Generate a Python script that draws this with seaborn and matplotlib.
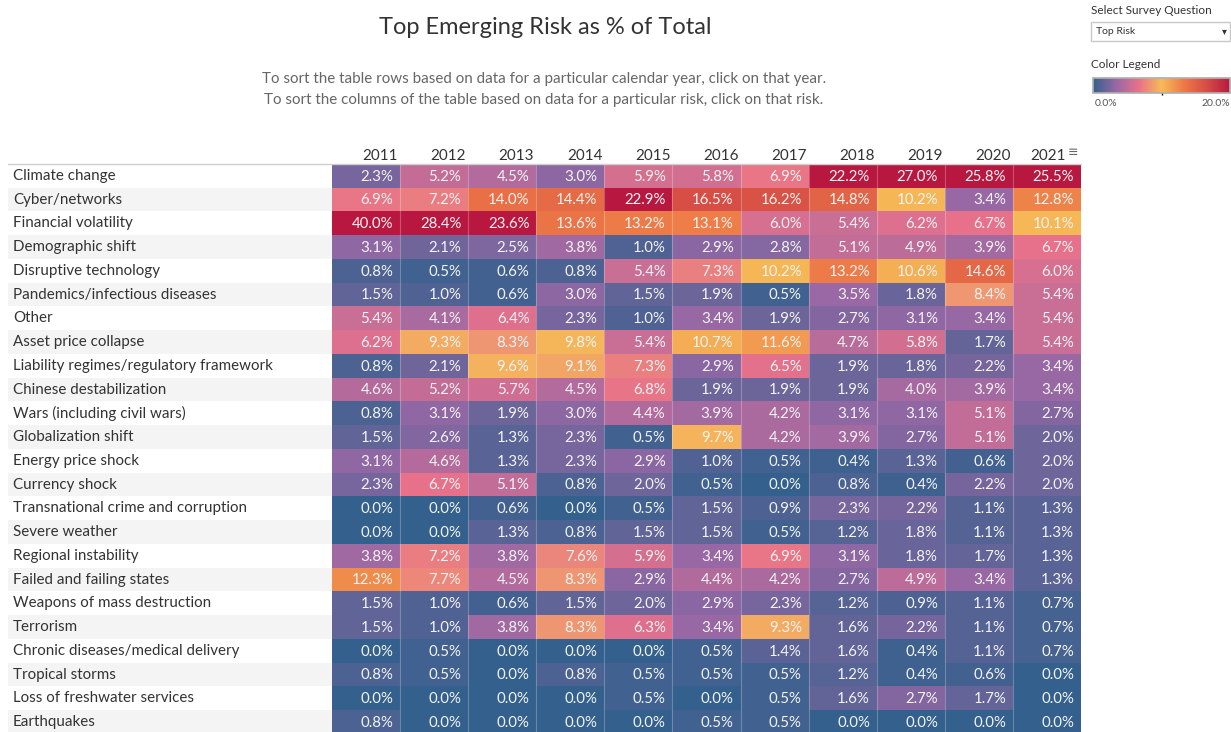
import numpy as np
import pandas as pd
import matplotlib
matplotlib.use("Agg")
import matplotlib.pyplot as plt
import seaborn as sns
from matplotlib.colors import LinearSegmentedColormap, Normalize
from matplotlib.cm import ScalarMappable
from matplotlib.patches import Rectangle

years = ["2011", "2012", "2013", "2014", "2015", "2016", "2017", "2018", "2019", "2020", "2021"]

risks = [
    "Climate change", "Cyber/networks", "Financial volatility", "Demographic shift",
    "Disruptive technology", "Pandemics/infectious diseases", "Other", "Asset price collapse",
    "Liability regimes/regulatory framework", "Chinese destabilization",
    "Wars (including civil wars)", "Globalization shift", "Energy price shock", "Currency shock",
    "Transnational crime and corruption", "Severe weather", "Regional instability",
    "Failed and failing states", "Weapons of mass destruction", "Terrorism",
    "Chronic diseases/medical delivery", "Tropical storms", "Loss of freshwater services",
    "Earthquakes",
]

climate = [2.3, 5.2, 4.5, 3.0, 5.9, 5.8, 6.9, 22.2, 27.0, 25.8, 25.5]
cyber = [6.9, 7.2, 14.0, 14.4, 22.9, 16.5, 16.2, 14.8, 10.2, 3.4, 12.8]
financial = [40.0, 28.4, 23.6, 13.6, 13.2, 13.1, 6.0, 5.4, 6.2, 6.7, 10.1]
demographic = [3.1, 2.1, 2.5, 3.8, 1.0, 2.9, 2.8, 5.1, 4.9, 3.9, 6.7]
disruptive = [0.8, 0.5, 0.6, 0.8, 5.4, 7.3, 10.2, 13.2, 10.6, 14.6, 6.0]
pandemics = [1.5, 1.0, 0.6, 3.0, 1.5, 1.9, 0.5, 3.5, 1.8, 8.4, 5.4]
other = [5.4, 4.1, 6.4, 2.3, 1.0, 3.4, 1.9, 2.7, 3.1, 3.4, 5.4]
asset = [6.2, 9.3, 8.3, 9.8, 5.4, 10.7, 11.6, 4.7, 5.8, 1.7, 5.4]
liability = [0.8, 2.1, 9.6, 9.1, 7.3, 2.9, 6.5, 1.9, 1.8, 2.2, 3.4]
chinese = [4.6, 5.2, 5.7, 4.5, 6.8, 1.9, 1.9, 1.9, 4.0, 3.9, 3.4]
wars = [0.8, 3.1, 1.9, 3.0, 4.4, 3.9, 4.2, 3.1, 3.1, 5.1, 2.7]
globalization = [1.5, 2.6, 1.3, 2.3, 0.5, 9.7, 4.2, 3.9, 2.7, 5.1, 2.0]
energy = [3.1, 4.6, 1.3, 2.3, 2.9, 1.0, 0.5, 0.4, 1.3, 0.6, 2.0]
currency = [2.3, 6.7, 5.1, 0.8, 2.0, 0.5, 0.0, 0.8, 0.4, 2.2, 2.0]
crime = [0.0, 0.0, 0.6, 0.0, 0.5, 1.5, 0.9, 2.3, 2.2, 1.1, 1.3]
weather = [0.0, 0.0, 1.3, 0.8, 1.5, 1.5, 0.5, 1.2, 1.8, 1.1, 1.3]
regional = [3.8, 7.2, 3.8, 7.6, 5.9, 3.4, 6.9, 3.1, 1.8, 1.7, 1.3]
failed = [12.3, 7.7, 4.5, 8.3, 2.9, 4.4, 4.2, 2.7, 4.9, 3.4, 1.3]
wmd = [1.5, 1.0, 0.6, 1.5, 2.0, 2.9, 2.3, 1.2, 0.9, 1.1, 0.7]
terrorism = [1.5, 1.0, 3.8, 8.3, 6.3, 3.4, 9.3, 1.6, 2.2, 1.1, 0.7]
chronic = [0.0, 0.5, 0.0, 0.0, 0.0, 0.5, 1.4, 1.6, 0.4, 1.1, 0.7]
tropical = [0.8, 0.5, 0.0, 0.8, 0.5, 0.5, 0.5, 1.2, 0.4, 0.6, 0.0]
freshwater = [0.0, 0.0, 0.0, 0.0, 0.5, 0.0, 0.5, 1.6, 2.7, 1.7, 0.0]
earthquakes = [0.8, 0.0, 0.0, 0.0, 0.0, 0.5, 0.5, 0.0, 0.0, 0.0, 0.0]

rows = [climate, cyber, financial, demographic, disruptive, pandemics, other, asset,
        liability, chinese, wars, globalization, energy, currency, crime, weather,
        regional, failed, wmd, terrorism, chronic, tropical, freshwater, earthquakes]

df = pd.DataFrame(rows, index=risks, columns=years)
labels = df.map(lambda v: f"{v:.1f}%").values

# Tableau "Sunset-Sunrise Diverging"
cmap = LinearSegmentedColormap.from_list("sunset", [
    (0.0, "#33608c"), (1 / 6, "#9768a5"), (2 / 6, "#e7718a"), (3 / 6, "#f6ba57"),
    (4 / 6, "#ed7846"), (5 / 6, "#d54c45"), (1.0, "#b81840")])

sns.set_theme(style="white")
plt.rcParams['font.family'] = ['Lato', 'DejaVu Sans']

W, H = 1231, 732
fig = plt.figure(figsize=(W / 100, H / 100), dpi=100)

top_px, bot_px = 164, 734
left_px, right_px = 332, 1081
ax_rect = [left_px / W, 1 - bot_px / H, (right_px - left_px) / W, (bot_px - top_px) / H]

# banded background behind row labels
lab_ax = fig.add_axes([8 / W, ax_rect[1], (left_px - 8) / W, ax_rect[3]])
lab_ax.set_xlim(0, 1)
lab_ax.set_ylim(len(risks), 0)
for i in range(1, len(risks), 2):
    lab_ax.axhspan(i, i + 1, color="#f4f4f4", lw=0)
lab_ax.axis("off")

ax = fig.add_axes(ax_rect)
sns.heatmap(df, ax=ax, cmap=cmap, vmin=0, vmax=20, cbar=False,
            annot=labels, fmt="", annot_kws={"fontsize": 10.8, "color": "#f3f3f3"})

# right-align the cell texts like the table
for t in ax.texts:
    x, y = t.get_position()
    t.set_position((x + 0.40, y + 0.03))
    t.set_ha("right")

for j in range(1, len(years)):
    ax.axvline(j, color="white", alpha=0.25, lw=0.8)

ax.xaxis.tick_top()
xpos = np.arange(len(years)) + 0.97
xpos[-1] = len(years) - 0.22
ax.set_xticks(xpos)
ax.set_xticklabels(years, ha="right", fontsize=11, color="#333333")
ax.set_yticks(np.arange(len(risks)) + 0.5)
ax.set_yticklabels(risks, ha="left", fontsize=10.9, color="#333333", rotation=0)
ax.tick_params(axis="y", length=0, pad=(left_px - 13) * 0.72)
ax.tick_params(axis="x", length=0, pad=1)
ax.set_xlabel("")
ax.set_ylabel("")

# sort indicator next to 2021
ax.text(len(years) - 0.2, -0.5, "≡", fontsize=9, color="#666666",
        ha="left", va="center", family=["DejaVu Sans"], clip_on=False)

fig.add_artist(plt.Line2D([8 / W, right_px / W], [1 - top_px / H] * 2,
                          transform=fig.transFigure, color="#cfcfcf", lw=1))

fig.text(545 / W, 1 - 27 / H, "Top Emerging Risk as % of Total", ha="center", va="center",
         fontsize=17, color="#333333")
fig.text(544 / W, 1 - 79 / H,
         "To sort the table rows based on data for a particular calendar year, click on that year.",
         ha="center", va="center", fontsize=10.9, color="#666666")
fig.text(544 / W, 1 - 100 / H,
         "To sort the columns of the table based on data for a particular risk, click on that risk.",
         ha="center", va="center", fontsize=10.9, color="#666666")

# survey question selector
fig.text(1091 / W, 1 - 11 / H, "Select Survey Question", ha="left", va="center",
         fontsize=8.5, color="#333333")
fig.add_artist(Rectangle((1091 / W, 1 - 41 / H), 139 / W, 19 / H, transform=fig.transFigure,
                         fill=False, ec="#c8c8c8", lw=1))
fig.text(1096 / W, 1 - 31.5 / H, "Top Risk", ha="left", va="center", fontsize=7.5, color="#333333")
fig.text(1224 / W, 1 - 31.5 / H, "▾", ha="center", va="center", fontsize=7, color="#333333",
         family=["DejaVu Sans"])

# colour legend
fig.text(1091 / W, 1 - 65 / H, "Color Legend", ha="left", va="center", fontsize=8.5, color="#333333")
cax = fig.add_axes([1093 / W, 1 - 93 / H, 137 / W, 15 / H])
cb = fig.colorbar(ScalarMappable(norm=Normalize(0, 20), cmap=cmap), cax=cax, orientation="horizontal")
cb.set_ticks([10])
cax.tick_params(length=3, width=1, color="black", direction="inout", labelbottom=False)
cb.outline.set_edgecolor("#b0b0b0")
fig.text(1095 / W, 1 - 104 / H, "0.0%", ha="left", va="center", fontsize=7.5, color="#555555")
fig.text(1230 / W, 1 - 104 / H, "20.0%", ha="right", va="center", fontsize=7.5, color="#555555")

fig.savefig("out.png", dpi=100)
